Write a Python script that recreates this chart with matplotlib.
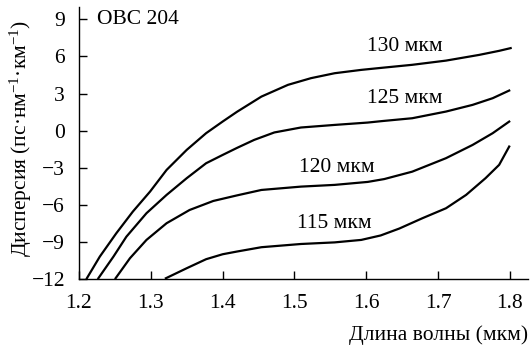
import matplotlib
matplotlib.use("Agg")
import matplotlib.pyplot as plt

plt.rcParams['font.family'] = ['Liberation Serif', 'DejaVu Serif']
plt.rcParams['mathtext.fontset'] = 'custom'
plt.rcParams['mathtext.rm'] = 'Liberation Serif'
plt.rcParams['mathtext.it'] = 'Liberation Serif:italic'

# wavelength (um) / dispersion (ps/nm/km)
wl_130 = [1.211, 1.229, 1.252, 1.275, 1.299, 1.322, 1.350, 1.377, 1.400, 1.420,
          1.454, 1.491, 1.523, 1.556, 1.593, 1.622, 1.664, 1.711, 1.757, 1.785, 1.801]
d_130 = [-11.94, -10.19, -8.30, -6.55, -4.93, -3.18, -1.56, -0.21, 0.73, 1.52,
         2.75, 3.70, 4.24, 4.64, 4.91, 5.08, 5.32, 5.66, 6.12, 6.45, 6.67]

wl_125 = [1.227, 1.248, 1.266, 1.294, 1.322, 1.350, 1.377, 1.400, 1.420, 1.444,
          1.472, 1.509, 1.556, 1.602, 1.622, 1.664, 1.711, 1.748, 1.776, 1.799]
d_125 = [-11.94, -10.19, -8.58, -6.68, -5.20, -3.85, -2.64, -1.97, -1.40, -0.75,
         -0.15, 0.25, 0.46, 0.65, 0.77, 1.00, 1.54, 2.08, 2.62, 3.24]

wl_120 = [1.251, 1.271, 1.294, 1.322, 1.354, 1.387, 1.420, 1.454, 1.509, 1.556,
          1.602, 1.625, 1.664, 1.711, 1.748, 1.776, 1.799]
d_120 = [-11.94, -10.32, -8.84, -7.49, -6.42, -5.69, -5.24, -4.80, -4.53, -4.39,
         -4.15, -3.92, -3.32, -2.23, -1.16, -0.21, 0.73]

wl_115 = [1.321, 1.350, 1.377, 1.400, 1.420, 1.454, 1.509, 1.556, 1.593, 1.620,
          1.646, 1.678, 1.711, 1.739, 1.766, 1.785, 1.799]
d_115 = [-11.94, -11.13, -10.40, -10.00, -9.78, -9.43, -9.17, -9.04, -8.84, -8.48,
         -7.92, -7.09, -6.28, -5.20, -3.85, -2.77, -1.29]

curves = [(wl_130, d_130), (wl_125, d_125), (wl_120, d_120), (wl_115, d_115)]
labels = ["130 мкм", "125 мкм", "120 мкм", "115 мкм"]
label_pos = [(1.601, 6.77), (1.601, 2.56), (1.507, -2.97), (1.503, -7.55)]

xticks = [1.2, 1.3, 1.4, 1.5, 1.6, 1.7, 1.8]
yticks = [-12, -9, -6, -3, 0, 3, 6, 9]

fs = 15.5

fig = plt.figure(figsize=(5.3, 3.47), dpi=100)
ax = fig.add_axes([0.149, 0.196, 0.847, 0.784])

for wl, d in curves:
    ax.plot(wl, d, color='black', linewidth=1.6, solid_joinstyle='round')

for txt, (x, y) in zip(labels, label_pos):
    ax.text(x, y, txt, fontsize=fs, ha='left', va='center')

ax.text(1.225, 8.96, "OBC 204", fontsize=fs, ha='left', va='center')

ax.set_xlim(1.2, 1.825)
ax.set_ylim(-12, 10)
ax.set_xticks(xticks)
ax.set_xticklabels([f"{v:.1f}" for v in xticks])
ax.set_yticks(yticks)
ax.set_yticklabels([f"{v}".replace('-', '\u2212') for v in yticks])

ax.spines['top'].set_visible(False)
ax.spines['right'].set_visible(False)
for s in ('left', 'bottom'):
    ax.spines[s].set_linewidth(1.0)

ax.tick_params(axis='both', direction='in', length=6, width=1.0, labelsize=fs)
ax.tick_params(axis='x', pad=11)
ax.tick_params(axis='y', pad=10)

fig.text(0.996, 0.035, "Длина волны (мкм)", fontsize=fs, ha='right', va='center')
fig.text(0.04, 0.6, "Дисперсия (пс·нм$^{-1}$·км$^{-1}$)", fontsize=fs,
         rotation=90, ha='center', va='center')

fig.savefig("out.png", dpi=100)
